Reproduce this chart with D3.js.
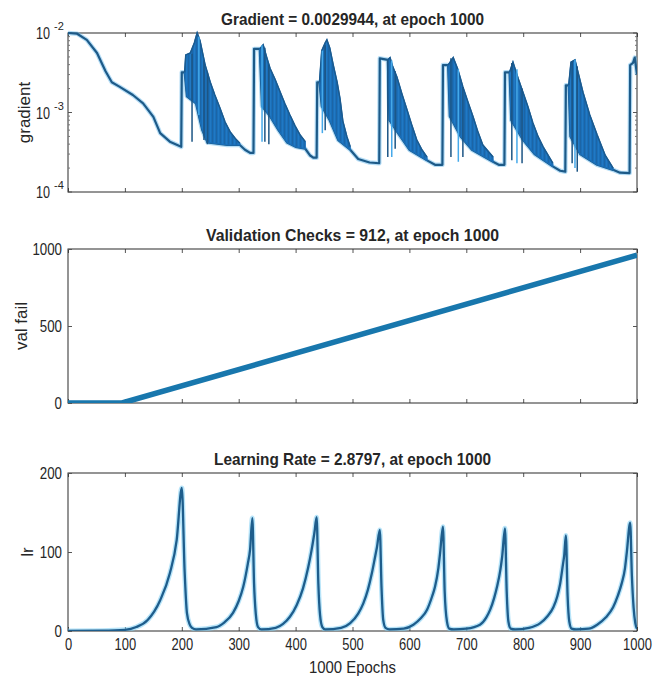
<!DOCTYPE html>
<html>
<head>
<meta charset="utf-8">
<script src="https://cdn.jsdelivr.net/npm/d3@7/dist/d3.min.js"></script>
<style>
body { margin: 0; background: #fff; }
text { font-family: "Liberation Sans", Arial, sans-serif; fill: #262626; }
</style>
</head>
<body>
<script>

// training record (epoch, value)

var xTicks = [0, 100, 200, 300, 400, 500, 600, 700, 800, 900, 1000];

// gradient, the smooth part of the curve incl. the jumps
var gradLine = [
  [0, 1.0e-2], [16, 9.8e-3], [33, 8.2e-3], [51, 5.6e-3], [66, 3.3e-3], [77, 2.4e-3],
  [91, 2.1e-3], [114, 1.66e-3], [132, 1.3e-3], [150, 8.8e-4], [162, 5.5e-4], [179, 4.3e-4],
  [199, 3.7e-4], [200, 3.2e-3], [205, 3.2e-3], [209, 1.6e-3], [225, 1.3e-3], [236, 6.0e-4],
  [245, 4.2e-4], [280, 3.9e-4], [302, 3.9e-4], [311, 3.4e-4], [320, 3.1e-4], [326, 3.1e-4],
  [327, 6.3e-3], [337, 6.3e-3], [341, 1.2e-3], [355, 9e-4], [370, 6e-4], [385, 4.2e-4],
  [400, 3.7e-4], [417, 3.5e-4], [425, 2.9e-4], [431, 2.7e-4], [437, 2.7e-4],
  [438, 2.4e-3], [442, 2.4e-3], [446, 1.2e-3], [460, 8e-4], [475, 4.5e-4], [496, 3.4e-4],
  [510, 2.6e-4], [530, 2.35e-4], [547, 2.3e-4],
  [548, 4.8e-3], [562, 4.6e-3], [565, 8e-4], [580, 5.5e-4], [600, 3.4e-4], [631, 2.5e-4],
  [645, 2.2e-4], [658, 2.2e-4],
  [659, 3.95e-3], [668, 3.95e-3], [671, 9e-4], [690, 5e-4], [710, 3.4e-4], [747, 2.4e-4],
  [757, 2.2e-4], [767, 2.2e-4],
  [768, 3.2e-3], [776, 3.2e-3], [779, 8e-4], [800, 4.5e-4], [820, 3e-4], [852, 2.1e-4],
  [865, 1.85e-4], [874, 1.8e-4],
  [875, 2.2e-3], [880, 2.2e-3], [883, 5e-4], [900, 3e-4], [930, 2.2e-4], [958, 1.9e-4],
  [970, 1.75e-4], [987, 1.73e-4],
  [988, 3.95e-3], [993, 4.2e-3], [996, 4.9e-3], [1000, 3.0e-3]
];

// upper edge of the dense oscillating part, one list per burst
var bandTops = [
  [[205, 3.2e-3], [207, 5.3e-3], [215, 5.6e-3], [222, 7.5e-3], [227, 1.0e-2], [232, 8.0e-3],
   [241, 3.95e-3], [250, 2.4e-3], [258, 1.66e-3], [267, 1.14e-3], [276, 7.6e-4], [285, 5.7e-4],
   [294, 4.7e-4], [302, 4.1e-4]],
  [[337, 6.3e-3], [343, 7.1e-3], [349, 5.0e-3], [355, 3.6e-3], [364, 2.6e-3], [373, 1.8e-3],
   [381, 1.3e-3], [390, 9.3e-4], [399, 6.8e-4], [408, 5.2e-4], [417, 4.3e-4]],
  [[442, 2.4e-3], [446, 6.0e-3], [452, 7.5e-3], [455, 8.2e-3], [460, 6.5e-3], [466, 4.0e-3],
   [473, 2.4e-3], [478, 1.5e-3], [483, 7.8e-4], [490, 5.0e-4], [496, 3.7e-4]],
  [[562, 4.6e-3], [566, 4.9e-3], [570, 3.9e-3], [578, 2.8e-3], [587, 1.7e-3], [596, 1.07e-3],
   [604, 7e-4], [613, 4.5e-4], [622, 3.4e-4], [631, 2.75e-4]],
  [[668, 3.95e-3], [677, 4.9e-3], [685, 3.5e-3], [694, 2.1e-3], [703, 1.35e-3], [712, 8.8e-4],
   [720, 5.8e-4], [729, 3.9e-4], [747, 2.75e-4]],
  [[776, 3.2e-3], [782, 4.3e-3], [791, 2.7e-3], [800, 1.76e-3], [808, 1.2e-3], [817, 7.4e-4],
   [826, 5e-4], [835, 3.7e-4], [852, 2.3e-4]],
  [[880, 2.2e-3], [884, 4.3e-3], [891, 4.6e-3], [905, 1.8e-3], [917, 9.3e-4], [930, 5.2e-4],
   [944, 2.9e-4], [958, 2.0e-4]]
];

// lower edge of the same bursts
var bandLows = [
  [[205, 3.2e-3], [209, 1.6e-3], [225, 1.3e-3], [236, 6.0e-4], [245, 4.2e-4], [280, 3.9e-4], [302, 3.9e-4]],
  [[337, 6.3e-3], [341, 1.2e-3], [355, 9e-4], [370, 6e-4], [385, 4.2e-4], [400, 3.7e-4], [417, 3.5e-4]],
  [[442, 2.4e-3], [446, 1.2e-3], [460, 8e-4], [475, 4.5e-4], [496, 3.4e-4]],
  [[562, 4.6e-3], [565, 8e-4], [580, 5.5e-4], [600, 3.4e-4], [631, 2.5e-4]],
  [[668, 3.95e-3], [671, 9e-4], [690, 5e-4], [710, 3.4e-4], [747, 2.4e-4]],
  [[776, 3.2e-3], [779, 8e-4], [800, 4.5e-4], [820, 3e-4], [852, 2.1e-4]],
  [[880, 2.2e-3], [883, 5e-4], [900, 3e-4], [930, 2.2e-4], [958, 1.9e-4]]
];

// single deep drops inside the bursts: epoch, from, to
var gradSpikes = [
  [218, 5.5e-3, 4.3e-4], [230, 9e-3, 9.3e-4], [239, 4.5e-3, 4.5e-4], [245, 3.2e-3, 4.0e-4],
  [341, 7e-3, 4.3e-4], [346, 6.5e-3, 4.3e-4], [353, 4e-3, 4.0e-4],
  [447, 6e-3, 5.5e-4], [452, 7e-3, 6e-4],
  [562, 4.6e-3, 2.75e-4], [569, 4.5e-3, 2.75e-4], [575, 3.3e-3, 3.5e-4],
  [673, 4.8e-3, 2.75e-4], [686, 3.5e-3, 2.4e-4], [694, 2.1e-3, 2.75e-4],
  [780, 4.2e-3, 2.5e-4], [789, 3.5e-3, 2.3e-4], [798, 2.0e-3, 2.3e-4],
  [886, 4.4e-3, 2.3e-4], [891, 4.6e-3, 2.0e-4], [895, 3.8e-3, 1.8e-4]
];

var valFail = [[0, 0], [95, 0], [1000, 960]];

var lrLine = [
  [0, 0.01], [60, 0.3], [100, 1.5], [120, 5], [140, 14], [162, 39], [179, 73], [191, 115],
  [200, 181], [205, 75], [209, 23], [214, 8], [218, 4], [225, 2],
  [261, 5], [275, 11], [290, 23], [300, 38], [308, 56], [316, 85], [320, 103], [324, 143],
  [327, 60], [330, 22], [334, 5], [340, 2],
  [365, 4], [378, 9], [390, 18], [402, 33], [413, 54], [422, 80], [428, 102], [433, 124],
  [437, 144], [440, 60], [443, 20], [447, 5], [452, 2],
  [480, 4], [496, 10], [510, 22], [519, 35], [527, 52], [534, 73], [540, 95], [543, 106],
  [548, 128], [551, 55], [554, 14], [558, 4], [565, 2],
  [590, 3], [607, 8], [620, 16], [631, 27], [640, 44], [645, 56], [651, 80], [654, 99],
  [659, 132], [662, 50], [666, 12], [670, 3], [678, 2],
  [700, 3], [724, 8], [735, 17], [742, 27], [749, 42], [754, 56], [760, 78], [763, 94],
  [768, 130], [771, 50], [774, 12], [778, 3], [786, 2],
  [810, 4], [830, 10], [843, 19], [853, 30], [860, 44], [865, 60], [870, 85], [872, 95],
  [875, 121], [878, 45], [881, 12], [885, 3], [893, 2],
  [915, 3], [930, 8], [945, 17], [958, 30], [966, 44], [973, 60], [979, 80], [982, 99],
  [988, 137], [991, 70], [994, 30], [997, 10], [1000, 2.88]
];

var titles = ["Gradient = 0.0029944, at epoch 1000",
              "Validation Checks = 912, at epoch 1000",
              "Learning Rate = 2.8797, at epoch 1000"];
var yLabels = ["gradient", "val fail", "lr"];

// ---------------------------------------------------------------

var svg = d3.select("body").append("svg")
    .attr("width", 667)
    .attr("height", 685);

// faint stripes so the bursts look like the dense up/down line of the original
var pat = svg.append("defs").append("pattern")
    .attr("id", "osc").attr("patternUnits", "userSpaceOnUse")
    .attr("width", 4).attr("height", 10);
pat.append("rect").attr("width", 4).attr("height", 10).attr("fill", "#1a6fb9");
pat.append("rect").attr("x", 0).attr("width", 0.8).attr("height", 10).attr("fill", "#1c62a2");
pat.append("rect").attr("x", 2.2).attr("width", 0.6).attr("height", 10).attr("fill", "#2580cc");

var left = 68, right = 637;
var x = d3.scaleLinear().domain([0, 1000]).range([left, right]);

var y1 = d3.scaleLog().domain([1e-4, 1e-2]).range([192, 33]);
var y2 = d3.scaleLinear().domain([0, 1000]).range([403, 249]);
var y3 = d3.scaleLinear().domain([0, 200]).range([631, 473]);

function squeeze(sel, perChar) {
  sel.each(function () {
    var n = this.textContent.length;
    d3.select(this).attr("textLength", n * perChar).attr("lengthAdjust", "spacingAndGlyphs");
  });
}

function frame(y, title, titleLen, ylab, ylabX, showX) {
  var top = y.range()[1], bottom = y.range()[0];
  var g = svg.append("g");

  // ticks point inward, on both sides like matlab
  var xb = g.append("g").attr("transform", "translate(0," + bottom + ")")
      .call(d3.axisBottom(x).tickValues(xTicks).tickSizeInner(-4).tickSizeOuter(0)
        .tickPadding(7).tickFormat(showX ? d3.format("d") : ""));
  var xt = g.append("g").attr("transform", "translate(0," + top + ")")
      .call(d3.axisTop(x).tickValues(xTicks).tickSizeInner(-4).tickSizeOuter(0).tickFormat(""));
  [xb, xt].forEach(function (a) {
    a.select(".domain").remove();
    a.selectAll("line").attr("stroke", "#555");
  });
  xb.selectAll("text").style("font-size", "17px").attr("fill", "#262626").call(squeeze, 7.2);

  g.append("rect")
      .attr("x", left).attr("y", top)
      .attr("width", right - left).attr("height", bottom - top)
      .attr("fill", "none").attr("stroke", "#2b2b2b").attr("stroke-width", 1);

  g.append("text")
      .attr("x", (left + right) / 2).attr("y", top - 8)
      .attr("text-anchor", "middle")
      .style("font-size", "17px").style("font-weight", "bold")
      .attr("textLength", titleLen).attr("lengthAdjust", "spacingAndGlyphs")
      .text(title);

  g.append("text")
      .attr("transform", "translate(" + ylabX + "," + ((top + bottom) / 2) + ") rotate(-90)")
      .attr("text-anchor", "middle")
      .style("font-size", "17px")
      .text(ylab);

  return g;
}

function yTicksLinear(g, y, vals) {
  var l = g.append("g").attr("transform", "translate(" + left + ",0)")
      .call(d3.axisLeft(y).tickValues(vals).tickSizeInner(-4).tickSizeOuter(0).tickPadding(6)
        .tickFormat(d3.format("d")));
  var r = g.append("g").attr("transform", "translate(" + right + ",0)")
      .call(d3.axisRight(y).tickValues(vals).tickSizeInner(-4).tickSizeOuter(0).tickFormat(""));
  [l, r].forEach(function (a) {
    a.select(".domain").remove();
    a.selectAll("line").attr("stroke", "#555");
  });
  l.selectAll("text").style("font-size", "17px").attr("fill", "#262626").call(squeeze, 7.4);
}

function clip(id, y) {
  svg.append("clipPath").attr("id", id).append("rect")
      .attr("x", left).attr("y", y.range()[1] - 3)
      .attr("width", right - left).attr("height", y.range()[0] - y.range()[1] + 3);
  return svg.append("g").attr("clip-path", "url(#" + id + ")");
}

// ---- panel 1: gradient (log) ----
var g1 = frame(y1, titles[0], 263, yLabels[0], 30, false);

var majors = [1e-4, 1e-3, 1e-2];
var minors = [];
[1e-4, 1e-3].forEach(function (d) {
  for (var k = 2; k < 10; k++) minors.push(d * k);
});
g1.selectAll(".ymaj").data(majors).enter().append("path")
    .attr("d", function (d) {
      return "M" + left + "," + y1(d) + "h4M" + right + "," + y1(d) + "h-4";
    })
    .attr("stroke", "#555");
g1.selectAll(".ymin").data(minors).enter().append("path")
    .attr("d", function (d) {
      return "M" + left + "," + y1(d) + "h2M" + right + "," + y1(d) + "h-2";
    })
    .attr("stroke", "#777");
g1.selectAll(".ybase").data(majors).enter().append("text")
    .attr("x", 50).attr("y", function (d) { return y1(d) + 6; })
    .attr("text-anchor", "end")
    .style("font-size", "16px")
    .attr("textLength", 14).attr("lengthAdjust", "spacingAndGlyphs")
    .text("10");
g1.selectAll(".yexp").data(majors).enter().append("text")
    .attr("x", 54).attr("y", function (d) { return y1(d) - 3; })
    .style("font-size", "11px")
    .text(function (d) { return "-" + Math.round(-Math.log10(d)); });

var p1 = clip("c1", y1);
var gLine = d3.line().x(function (d) { return x(d[0]); }).y(function (d) { return y1(d[1]); });

p1.append("path").attr("d", gLine(gradLine))
    .attr("fill", "none").attr("stroke", "#5ab4ea").attr("stroke-opacity", 0.45)
    .attr("stroke-width", 4.5).attr("stroke-linejoin", "round");
p1.append("path").attr("d", gLine(gradLine))
    .attr("fill", "none").attr("stroke", "#1d5a88").attr("stroke-width", 2.2)
    .attr("stroke-linejoin", "round");

bandTops.forEach(function (top, i) {
  var poly = top.concat(bandLows[i].slice().reverse());
  p1.append("path").attr("d", gLine(poly) + "Z")
      .attr("fill", "url(#osc)").attr("stroke", "#1a6fb9").attr("stroke-width", 1.2);
  p1.append("path").attr("d", gLine(top))
      .attr("fill", "none").attr("stroke", "#1b5a8e").attr("stroke-width", 1.5);
});

p1.selectAll(".spike").data(gradSpikes).enter().append("line")
    .attr("x1", function (d) { return x(d[0]); })
    .attr("x2", function (d) { return x(d[0]); })
    .attr("y1", function (d) { return y1(d[1]); })
    .attr("y2", function (d) { return y1(d[2]); })
    .attr("stroke", function (d, i) { return i % 3 == 1 ? "#45a9ea" : "#1c5585"; })
    .attr("stroke-width", 1.5);

// ---- panel 2: validation fails ----
var g2 = frame(y2, titles[1], 293, yLabels[1], 27, false);
yTicksLinear(g2, y2, [0, 500, 1000]);
var p2 = clip("c2", y2);
p2.append("path")
    .attr("d", d3.line().x(function (d) { return x(d[0]); }).y(function (d) { return y2(d[1]); })(valFail))
    .attr("fill", "none").attr("stroke", "#1877ad").attr("stroke-width", 5.5);

// ---- panel 3: learning rate ----
var g3 = frame(y3, titles[2], 277, yLabels[2], 33, true);
yTicksLinear(g3, y3, [0, 100, 200]);
var p3 = clip("c3", y3);
var lLine = d3.line().curve(d3.curveMonotoneX)
    .x(function (d) { return x(d[0]); }).y(function (d) { return y3(d[1]); });
p3.append("path").attr("d", lLine(lrLine))
    .attr("fill", "none").attr("stroke", "#7ccdf4").attr("stroke-opacity", 0.55)
    .attr("stroke-width", 5);
p3.append("path").attr("d", lLine(lrLine))
    .attr("fill", "none").attr("stroke", "#1e5d8c").attr("stroke-width", 2.3);

svg.append("text")
    .attr("x", (left + right) / 2).attr("y", 673)
    .attr("text-anchor", "middle")
    .style("font-size", "16px")
    .attr("textLength", 87).attr("lengthAdjust", "spacingAndGlyphs")
    .text("1000 Epochs");

</script>
</body>
</html>
